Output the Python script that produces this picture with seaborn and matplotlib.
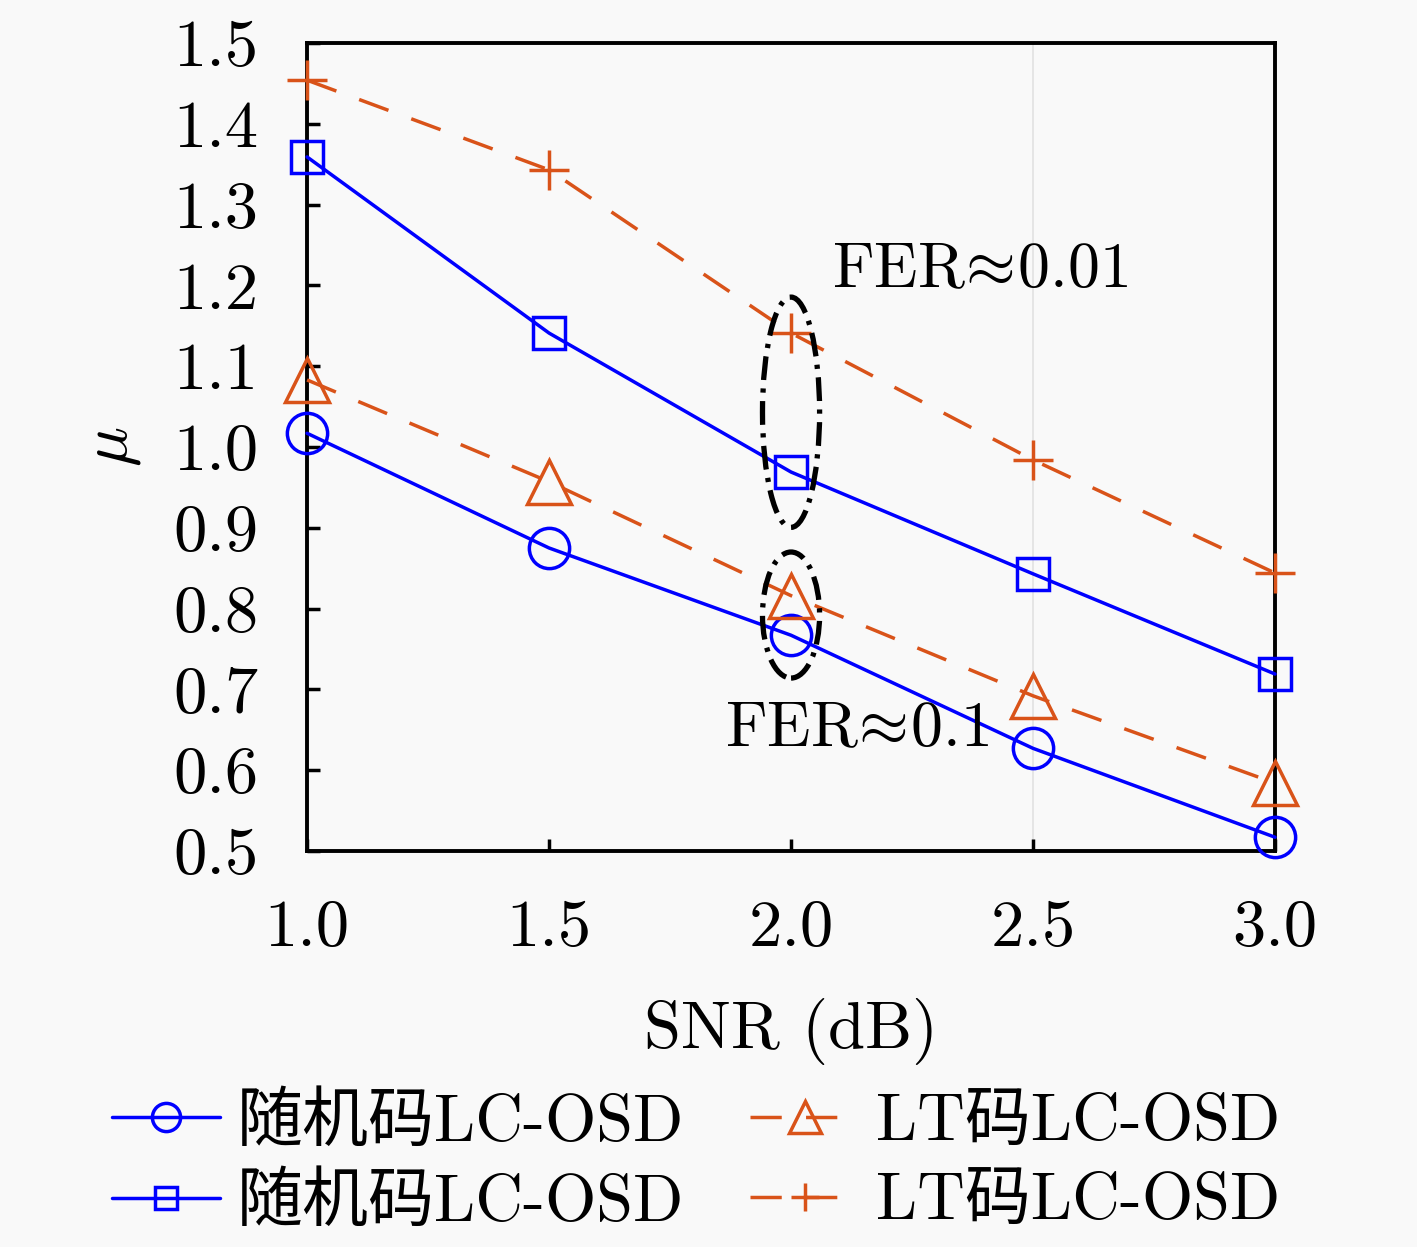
import matplotlib
matplotlib.use("Agg")
import matplotlib.pyplot as plt
import seaborn as sns
from matplotlib.patches import Ellipse
from matplotlib.ticker import FormatStrFormatter

# data
snr = [1.0, 1.5, 2.0, 2.5, 3.0]
rand_fer01 = [1.017, 0.875, 0.767, 0.627, 0.517]   # circles
rand_fer001 = [1.359, 1.141, 0.969, 0.843, 0.719]  # squares
lt_fer01 = [1.083, 0.957, 0.816, 0.692, 0.584]     # triangles
lt_fer001 = [1.454, 1.343, 1.141, 0.984, 0.844]    # plus
label_rand = "随机码LC-OSD"
label_lt = "LT码LC-OSD"

BLUE = "#0000FF"
ORANGE = "#D95319"
BG = "#f9f9f9"

sns.set_theme(style="white")
plt.rcParams["font.family"] = ["cmr10", "Noto Sans CJK SC", "DejaVu Serif"]
plt.rcParams["mathtext.fontset"] = "cm"
plt.rcParams["axes.unicode_minus"] = False
plt.rcParams["axes.formatter.use_mathtext"] = True
plt.rcParams["text.color"] = "black"
plt.rcParams["axes.labelcolor"] = "black"

fig = plt.figure(figsize=(14.17, 12.47), dpi=100, facecolor=BG)
ax = fig.add_axes([0.2167, 0.3176, 0.6831, 0.6479], facecolor=BG)

ax.axvline(2.5, color="#e2e2e2", lw=1.2, zorder=0)

dash = (0, (9, 7))
series = [
    (rand_fer01, BLUE, "-", "o", 29, label_rand),
    (rand_fer001, BLUE, "-", "s", 23, label_rand),
    (lt_fer01, ORANGE, dash, "^", 32, label_lt),
    (lt_fer001, ORANGE, dash, "+", 29, label_lt),
]
handles = []
for ys, col, ls, mk, ms, lab in series:
    sns.lineplot(x=snr, y=ys, ax=ax, color=col, linestyle=ls, lw=2.5,
                 marker=mk, markersize=ms, markerfacecolor="none",
                 markeredgecolor=col, markeredgewidth=2.5, clip_on=False,
                 zorder=3)
    handles.append(ax.lines[-1])

# FER groups
for cy, h in [(1.043, 0.285), (0.792, 0.156)]:
    ax.add_patch(Ellipse((2.0, cy), 0.118, h, fill=False, edgecolor="black",
                         lw=3.8, linestyle=(0, (4.5, 1.6, 0.8, 1.6)), zorder=4))
ax.text(2.085, 1.217, r"FER$\!\approx\!$0.01", fontsize=46, ha="left", va="center")
ax.text(1.864, 0.650, r"FER$\!\approx\!$0.1", fontsize=46, ha="left", va="center")

ax.set_xlim(1.0, 3.0)
ax.set_ylim(0.5, 1.5)
ax.set_xticks(snr)
ax.set_yticks([0.5, 0.6, 0.7, 0.8, 0.9, 1.0, 1.1, 1.2, 1.3, 1.4, 1.5])
ax.xaxis.set_major_formatter(FormatStrFormatter("%.1f"))
ax.yaxis.set_major_formatter(FormatStrFormatter("%.1f"))
ax.tick_params(direction="in", length=9, width=2.5, pad=35, labelsize=48,
               bottom=True, left=True, top=False, right=False, colors="black")
for sp in ax.spines.values():
    sp.set_color("black")
    sp.set_linewidth(2.8)
ax.set_xlabel("SNR (dB)", fontsize=48, labelpad=28)
ax.set_ylabel(r"$\mu$", fontsize=48, labelpad=22)

fig.legend([handles[0], handles[1], handles[2], handles[3]],
           [label_rand, label_rand, label_lt, label_lt],
           ncol=2, loc="center", bbox_to_anchor=(0.491, 0.067), frameon=False,
           fontsize=47.5, handlelength=1.65, handletextpad=0.25,
           columnspacing=1.0, labelspacing=0.3, markerscale=0.7)

fig.savefig("out.png", dpi=100, facecolor=BG)
